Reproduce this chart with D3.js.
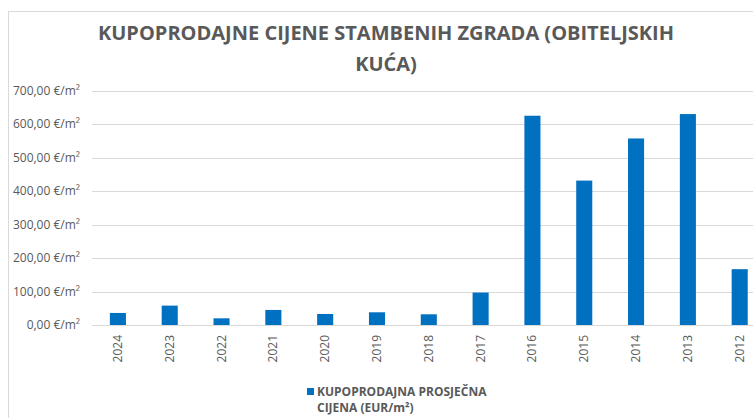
<!DOCTYPE html>
<html>
<head>
<meta charset="utf-8">
<script src="https://cdn.jsdelivr.net/npm/d3@7"></script>
<style>
  body { margin: 0; background: #fff; }
  svg { display: block; font-family: "Open Sans", "Liberation Sans", sans-serif; }
</style>
</head>
<body>
<div id="chart"></div>
<script>
// data
var years = ["2024", "2023", "2022", "2021", "2020", "2019", "2018", "2017", "2016", "2015", "2014", "2013", "2012"];
var prices = [36, 58, 20, 45, 33, 38, 32, 97, 626, 432, 558, 631, 167];
var yTicks = [0, 100, 200, 300, 400, 500, 600, 700];
var titleLines = ["KUPOPRODAJNE CIJENE STAMBENIH ZGRADA (OBITELJSKIH", "KUĆA)"];
var legendLines = ["KUPOPRODAJNA PROSJEČNA", "CIJENA (EUR/m²)"];

var W = 753, H = 418;
var textColor = "#595959", gridColor = "#d9d9d9", barColor = "#0070c0";

var svg = d3.select("#chart")
  .append("svg")
    .attr("width", W)
    .attr("height", H);

// chart frame (cropped on right/bottom)
svg.append("rect")
  .attr("x", 8.5).attr("y", 11.5)
  .attr("width", 900).attr("height", 600)
  .attr("fill", "none")
  .attr("stroke", gridColor);

var x = d3.scaleBand()
  .domain(years)
  .range([92, 765.6])
  .paddingInner(0.69)
  .paddingOuter(0.345);

var y = d3.scaleLinear()
  .domain([0, 700])
  .range([325, 91]);

// gridlines
svg.append("g")
  .selectAll("line")
  .data(yTicks)
  .enter()
  .append("line")
    .attr("x1", 92).attr("x2", W)
    .attr("y1", function(d) { return Math.round(y(d)) + 0.5; })
    .attr("y2", function(d) { return Math.round(y(d)) + 0.5; })
    .attr("stroke", gridColor)
    .attr("stroke-width", 1.2);

// y labels
var fmt = function(d) { return d3.format(".2f")(d).replace(".", ",") + " €/m²"; };
svg.append("g")
  .selectAll("text")
  .data(yTicks)
  .enter()
  .append("text")
    .attr("x", 80)
    .attr("y", function(d) { return y(d) + 4; })
    .attr("text-anchor", "end")
    .style("font-size", "12px")
    .style("fill", textColor)
    .text(fmt);

// bars
svg.append("g")
  .selectAll("rect")
  .data(years)
  .enter()
  .append("rect")
    .attr("x", function(d) { return x(d); })
    .attr("width", x.bandwidth())
    .attr("y", function(d, i) { return y(prices[i]); })
    .attr("height", function(d, i) { return y(0) - y(prices[i]); })
    .attr("fill", barColor);

// x labels, rotated
svg.append("g")
  .selectAll("text")
  .data(years)
  .enter()
  .append("text")
    .attr("transform", function(d) { return "translate(" + (x(d) + x.bandwidth() / 2 + 4) + ",335) rotate(-90)"; })
    .attr("text-anchor", "end")
    .style("font-size", "12px")
    .style("fill", textColor)
    .text(function(d) { return d; });

// title
svg.append("g")
  .selectAll("text")
  .data(titleLines)
  .enter()
  .append("text")
    .attr("x", 386)
    .attr("y", function(d, i) { return 40 + i * 31; })
    .attr("text-anchor", "middle")
    .style("font-size", "20px")
    .style("font-weight", "bold")
    .style("fill", textColor)
    .text(function(d) { return d; });

// legend
svg.append("rect")
  .attr("x", 307).attr("y", 388)
  .attr("width", 7).attr("height", 7)
  .attr("fill", barColor);
svg.append("g")
  .selectAll("text")
  .data(legendLines)
  .enter()
  .append("text")
    .attr("x", 317)
    .attr("y", function(d, i) { return 396 + i * 16; })
    .style("font-size", "12px")
    .style("font-weight", "bold")
    .style("fill", textColor)
    .text(function(d) { return d; });
</script>
</body>
</html>
